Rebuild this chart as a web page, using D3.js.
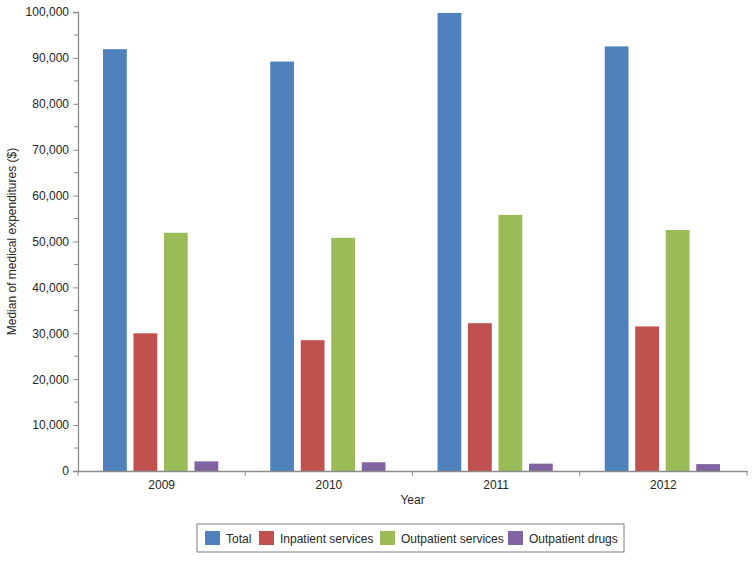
<!DOCTYPE html>
<html>
<head>
<meta charset="utf-8">
<script src="https://cdn.jsdelivr.net/npm/d3@7"></script>
<style>
  body { margin: 0; background: #fff; }
  text { font-family: "Liberation Sans", Arial, sans-serif; }
</style>
</head>
<body>
<div id="chart"></div>
<script>
// data
var years = ["2009", "2010", "2011", "2012"];
var series = ["Total", "Inpatient services", "Outpatient services", "Outpatient drugs"];
var total = [91900, 89200, 99800, 92500];
var inpatient = [30000, 28500, 32200, 31500];
var outpatient = [51900, 50800, 55800, 52500];
var drugs = [2100, 1900, 1600, 1500];
var yTicks = [0, 10000, 20000, 30000, 40000, 50000, 60000, 70000, 80000, 90000, 100000];

var colors = ["#4F81BD", "#C0504D", "#9BBB59", "#8064A2"];
var values = [total, inpatient, outpatient, drugs];

var W = 754, H = 562;
var margin = {top: 12, right: 7, bottom: 91, left: 78},
    width = W - margin.left - margin.right,
    height = H - margin.top - margin.bottom;

var svg = d3.select("#chart").append("svg")
    .attr("width", W)
    .attr("height", H);

var g = svg.append("g")
    .attr("transform", "translate(" + margin.left + "," + margin.top + ")");

var x0 = d3.scaleBand().domain(years).range([0, width]);
var x1 = d3.scaleBand().domain(d3.range(series.length))
    .range([25, x0.bandwidth() - 27])
    .paddingInner(0.22);

var y = d3.scaleLinear().domain([0, 100000]).range([height, 0]);

// bars
var groups = g.selectAll(".year")
  .data(years)
  .enter().append("g")
  .attr("class", "year")
  .attr("transform", function(d) { return "translate(" + x0(d) + ",0)"; });

groups.selectAll("rect")
  .data(function(d, i) { return values.map(function(v, k) { return {k: k, v: v[i]}; }); })
  .enter().append("rect")
  .attr("x", function(d) { return x1(d.k); })
  .attr("width", x1.bandwidth())
  .attr("y", function(d) { return y(d.v); })
  .attr("height", function(d) { return height - y(d.v); })
  .attr("fill", function(d) { return colors[d.k]; });

// y axis, with minor ticks at the half steps
var yAxis = d3.axisLeft(y)
  .tickValues(yTicks)
  .tickFormat(d3.format(","))
  .tickSize(5)
  .tickPadding(4);

var gY = g.append("g").attr("class", "y axis").call(yAxis);

var minor = d3.range(5000, 100000, 10000);
gY.selectAll(".minor")
  .data(minor)
  .enter().append("line")
  .attr("class", "minor")
  .attr("x1", -4).attr("x2", 0)
  .attr("y1", function(d) { return y(d); })
  .attr("y2", function(d) { return y(d); });

// x axis
var xAxis = d3.axisBottom(x0).tickSize(0).tickPadding(9);
var gX = g.append("g").attr("class", "x axis")
  .attr("transform", "translate(0," + height + ")")
  .call(xAxis);

gX.selectAll(".sep")
  .data(d3.range(years.length + 1))
  .enter().append("line")
  .attr("class", "sep")
  .attr("x1", function(d) { return d * x0.step(); })
  .attr("x2", function(d) { return d * x0.step(); })
  .attr("y1", 0).attr("y2", 5);

svg.selectAll(".axis path.domain, .axis line, .axis .minor, .axis .sep")
  .attr("stroke", "#8c8c8c");
svg.selectAll(".axis .domain").attr("stroke-width", 1.3);
svg.selectAll(".axis text")
  .attr("fill", "#262626")
  .style("font-size", "12px")
  .style("font-family", "Liberation Sans, Arial, sans-serif");

// axis titles
svg.append("text")
  .attr("x", margin.left + width / 2)
  .attr("y", 504)
  .attr("text-anchor", "middle")
  .attr("fill", "#262626")
  .style("font-size", "12px")
  .text("Year");

svg.append("text")
  .attr("transform", "translate(16," + (margin.top + height / 2) + ") rotate(-90)")
  .attr("text-anchor", "middle")
  .attr("fill", "#262626")
  .style("font-size", "12px")
  .text("Median of medical expenditures ($)");

// legend
var legend = svg.append("g").attr("transform", "translate(197,524)");
legend.append("rect")
  .attr("width", 427).attr("height", 28)
  .attr("fill", "none").attr("stroke", "#7f7f7f");

var legendX = [8, 62, 183, 311];
var item = legend.selectAll(".item")
  .data(series)
  .enter().append("g")
  .attr("class", "item")
  .attr("transform", function(d, i) { return "translate(" + legendX[i] + ",7)"; });

item.append("rect")
  .attr("width", 15).attr("height", 14)
  .attr("fill", function(d, i) { return colors[i]; });

item.append("text")
  .attr("x", 21).attr("y", 11.5)
  .attr("fill", "#262626")
  .style("font-size", "12px")
  .text(function(d) { return d; });
</script>
</body>
</html>
